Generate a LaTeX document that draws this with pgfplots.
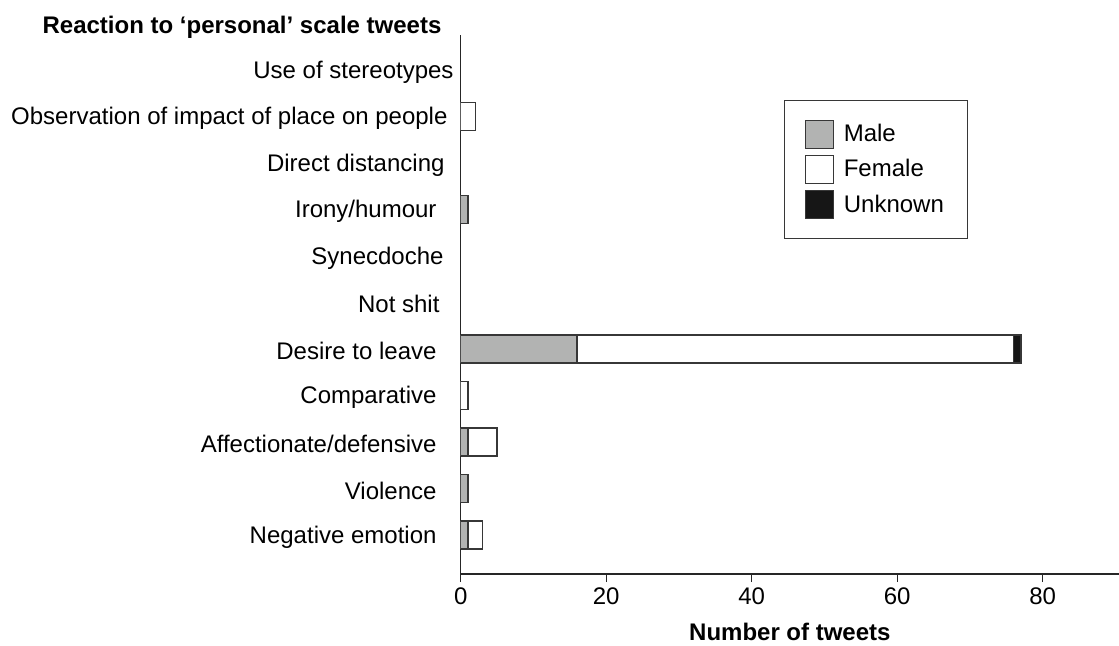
\documentclass[border=0pt]{standalone}
\usepackage{fontspec}
\setmainfont{Liberation Sans}
\usepackage{pgfplots}
\pgfplotsset{compat=1.18}
\definecolor{malegray}{RGB}{178,179,178}
\definecolor{unkblack}{RGB}{22,22,22}
\definecolor{edge}{RGB}{55,55,55}
\begin{document}
\begin{tikzpicture}
\useasboundingbox (-230.35pt,-35.5pt) rectangle (329.15pt,287pt);
\begin{axis}[
  at={(0,0)}, anchor=south west,
  scale only axis, width=329.15pt, height=269.5pt,
  xbar stacked, bar width=14pt,
  xmin=0, xmax=90.5, ymin=-0.84, ymax=10.75,
  axis x line*=bottom, axis y line*=left,
  axis line style={-, line width=0.6pt, black!85},
  xtick={0,20,40,60,80}, tick align=outside, major tick length=4pt,
  xtick style={line width=0.6pt, black!85},
  ytick={0,...,10}, ytick style={draw=none},
  yticklabels={Negative emotion\kern8.5pt,Violence\kern8.5pt,Affectionate/defensive\kern8.5pt,Comparative\kern8.5pt,Desire to leave\kern8.5pt,Not shit\kern7pt,Synecdoche\kern5pt,Irony/humour\kern8.5pt,Direct distancing\kern4.5pt,Observation of impact of place on people\kern3pt,Use of stereotypes},
  yticklabel style={anchor=east, inner sep=0pt, xshift=0.6pt, yshift=-1pt},
  every tick label/.append style={font=\fontsize{12}{14}\selectfont},
  xticklabel style={yshift=0.8pt},
  /pgf/number format/assume math mode=true,
  xlabel={Number of tweets},
  xlabel style={font=\bfseries\fontsize{12}{14}\selectfont, at={(axis description cs:0.5,0)}, anchor=north, yshift=-21pt},
  legend style={at={(0.491,0.879)}, anchor=north west, draw=edge, line width=0.6pt,
    font=\fontsize{12}{14}\selectfont, inner xsep=10pt, inner ysep=9.5pt, row sep=3pt, cells={anchor=west}},
  legend image code/.code={\draw[#1, line width=0.6pt] (0pt,-7pt) rectangle (14pt,7pt); \path (17pt,0pt);},
]
\addplot[fill=malegray, draw=edge, line width=0.7pt] coordinates {
  (1,0) (1,1) (1,2) (0,3) (16,4) (0,5) (0,6) (1,7) (0,8) (0,9) (0,10)};
\addlegendentry{Male}
\addplot[fill=white, draw=edge, line width=0.7pt] coordinates {
  (2,0) (0,1) (4,2) (1,3) (60,4) (0,5) (0,6) (0,7) (0,8) (2,9) (0,10)};
\addlegendentry{Female}
\addplot[fill=unkblack, draw=edge, line width=0.7pt] coordinates {
  (0,0) (0,1) (0,2) (0,3) (1,4) (0,5) (0,6) (0,7) (0,8) (0,9) (0,10)};
\addlegendentry{Unknown}
\end{axis}
\node[font=\bfseries\fontsize{12}{14}\selectfont] at (-109.35pt,273.5pt) {Reaction to ‘personal’ scale tweets};
\end{tikzpicture}
\end{document}
